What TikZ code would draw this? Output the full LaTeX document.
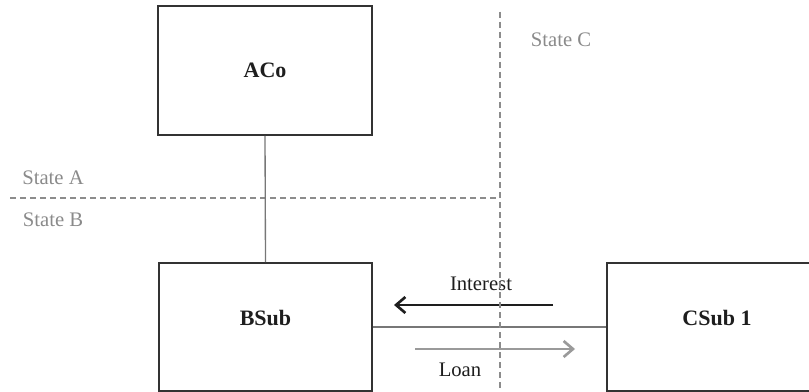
\documentclass[tikz,border=0pt]{standalone}
\usepackage{fontspec}
\setmainfont{Liberation Serif}
\usetikzlibrary{arrows.meta}
\definecolor{boxline}{HTML}{333333}
\definecolor{linkgray}{HTML}{777777}
\definecolor{borderline}{HTML}{8C8C8C}
\definecolor{statetext}{HTML}{8A8A8A}
\definecolor{loangray}{HTML}{9A9A9A}
\definecolor{flowdark}{HTML}{1E1E1E}
\tikzset{
  entity/.style={draw=boxline, line width=1.2pt, fill=white, inner sep=0pt},
  entitytext/.style={font=\fontsize{16.5}{18}\selectfont\bfseries, text=flowdark},
  border/.style={draw=borderline, line width=1pt, dash pattern=on 4.5pt off 3pt},
  statelabel/.style={font=\fontsize{15.5}{17}\selectfont, text=statetext},
  flowlabel/.style={font=\fontsize{15.5}{17}\selectfont, text=flowdark},
  link/.style={draw=linkgray, line width=1pt},
  flowarrow/.style={line width=1.4pt, -{Straight Barb[length=7pt, width=12pt, line width=2pt]}},
}
\begin{document}
\begin{tikzpicture}[x=0.75pt, y=-0.75pt]
  \useasboundingbox (0,0) rectangle (809,392);
  \clip (0,0) rectangle (809,392);

  % jurisdiction borders
  \coordinate (ab-left) at (10,198);
  \coordinate (ab-right) at (500,198);
  \coordinate (c-top) at (500,12);
  \coordinate (c-bottom) at (500,392);
  \draw[border] (ab-left) -- (ab-right);
  \draw[border] (c-top) -- (c-bottom);

  \node[statelabel] (stateA) at (53,178) {State A};
  \node[statelabel] (stateB) at (53,220) {State B};
  \node[statelabel] (stateC) at (561,40) {State C};

  % entities
  \node[entity, minimum width=160.5pt, minimum height=96.75pt,
        label={[entitytext]center:ACo}] (aco) at (265,70.5) {};
  \node[entity, minimum width=160pt, minimum height=96pt,
        label={[entitytext, yshift=7pt]center:BSub}] (bsub) at (265.5,327) {};
  \node[entity, minimum width=165pt, minimum height=96pt,
        label={[entitytext, yshift=7pt]center:CSub 1}] (csub) at (717,327) {};

  % ownership and loan links
  \draw[link] (aco.south) -- (bsub.north);
  \draw[link] (bsub.east) -- (csub.west);

  % interest and loan flows
  \coordinate (int-start) at (553,305);
  \coordinate (int-end) at (394,305);
  \coordinate (loan-start) at (415,349);
  \coordinate (loan-end) at (575,349);
  \draw[flowarrow, draw=flowdark] (int-start) -- (int-end);
  \draw[flowarrow, draw=loangray] (loan-start) -- (loan-end);
  \node[flowlabel] (interest) at (481,284) {Interest};
  \node[flowlabel] (loan) at (460,370) {Loan};

  % border redrawn over the flows
  \draw[border] (c-top) -- (c-bottom);
\end{tikzpicture}
\end{document}
